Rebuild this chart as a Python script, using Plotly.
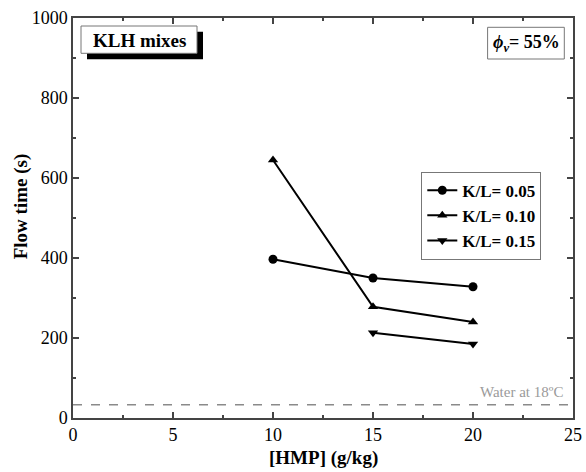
import plotly.graph_objects as go

# Data
hmp_005 = [10, 15, 20]
flow_005 = [397, 350, 328]
hmp_010 = [10, 15, 20]
flow_010 = [645, 278, 240]
hmp_015 = [15, 20]
flow_015 = [213, 185]
water_flow = 33
series_names = ["K/L= 0.05", "K/L= 0.10", "K/L= 0.15"]

FONT = "Liberation Serif"
W, H = 586, 472
L, R, T, B = 72.7, 13.3, 18, 54
PW, PH = W - L - R, H - T - B

def px(x):
    return (x - L) / PW

def py(y):
    return (H - B - y) / PH

fig = go.Figure()
symbols = ["circle", "triangle-up", "triangle-down"]
for xs, ys, name, sym in zip([hmp_005, hmp_010, hmp_015],
                             [flow_005, flow_010, flow_015],
                             series_names, symbols):
    fig.add_trace(go.Scatter(
        x=xs, y=ys, name="<b>" + name + "</b>", mode="lines+markers",
        line=dict(color="black", width=2),
        marker=dict(symbol=sym, size=9, color="black"),
    ))

# water reference line
fig.add_shape(type="line", xref="paper", yref="y", x0=0, x1=1,
              y0=water_flow, y1=water_flow,
              line=dict(color="#8a8a8a", width=1.5, dash="dash"))
fig.add_annotation(xref="paper", yref="y", x=px(565), y=water_flow,
                   xanchor="right", yanchor="bottom", yshift=3,
                   text="Water at 18ºC", showarrow=False,
                   font=dict(family=FONT, size=15, color="#9a9a9a"))

# KLH mixes box with shadow
fig.add_shape(type="rect", xref="paper", yref="paper",
              x0=px(86.7), x1=px(202.7), y0=py(59.3), y1=py(31.7),
              fillcolor="black", line=dict(width=0), layer="above")
fig.add_shape(type="rect", xref="paper", yref="paper",
              x0=px(80.7), x1=px(196.7), y0=py(53.3), y1=py(26),
              fillcolor="white", line=dict(color="#777777", width=1), layer="above")
fig.add_annotation(xref="paper", yref="paper", x=px(139.5), y=py(40),
                   xanchor="center", yanchor="middle",
                   text="<b>KLH mixes</b>", showarrow=False,
                   font=dict(family=FONT, size=19, color="black"))

# phi box
fig.add_shape(type="rect", xref="paper", yref="paper",
              x0=px(487.3), x1=px(564), y0=py(59), y1=py(27.3),
              fillcolor="white", line=dict(color="#777777", width=1), layer="above")
fig.add_annotation(xref="paper", yref="paper", x=px(526.5), y=py(43),
                   xanchor="center", yanchor="middle",
                   text="<b><i>ϕ</i><sub><i>v</i></sub>= 55%</b>", showarrow=False,
                   font=dict(family=FONT, size=18, color="black"))

# axis titles
fig.add_annotation(xref="paper", yref="paper", x=px(21), y=py(206),
                   xanchor="center", yanchor="middle", textangle=-90,
                   text="<b>Flow time (s)</b>", showarrow=False,
                   font=dict(family=FONT, size=19, color="black"))
fig.add_annotation(xref="paper", yref="paper", x=0.5, y=py(458),
                   xanchor="center", yanchor="middle",
                   text="<b>[HMP] (g/kg)</b>", showarrow=False,
                   font=dict(family=FONT, size=19, color="black"))

axis_common = dict(
    showline=True, linecolor="#444444", linewidth=1.5, mirror="ticks",
    ticks="inside", ticklen=6, tickwidth=1.5, tickcolor="#444444",
    showgrid=False, zeroline=False, automargin=False,
    tickfont=dict(family=FONT, size=18, color="black"),
)

fig.update_layout(
    width=W, height=H,
    margin=dict(l=L, r=R, t=T, b=B),
    paper_bgcolor="white", plot_bgcolor="white",
    showlegend=True,
    legend=dict(x=px(421), y=py(171.7), xanchor="left", yanchor="top",
                bordercolor="#777777", borderwidth=1, bgcolor="white",
                font=dict(family=FONT, size=17, color="black"),
                itemwidth=30, tracegroupgap=0),
    xaxis=dict(range=[0, 25], tickvals=[0, 5, 10, 15, 20, 25],
               minor=dict(dtick=2.5, ticks="inside", ticklen=3, tickcolor="#444444"),
               **axis_common),
    yaxis=dict(range=[0, 1000], tickvals=[0, 200, 400, 600, 800, 1000],
               minor=dict(dtick=100, ticks="inside", ticklen=3, tickcolor="#444444"),
               **axis_common),
)

fig.write_html("out.html")
